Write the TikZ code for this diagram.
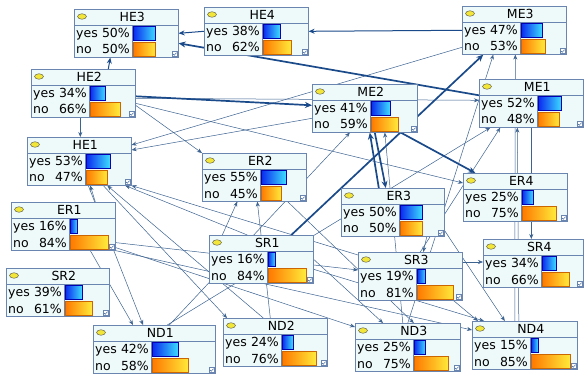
\documentclass[tikz,border=0pt]{standalone}
\usepackage{fontspec}
\setmainfont{DejaVu Sans}
\usepackage{tikz}
\usetikzlibrary{shapes.geometric}
\usetikzlibrary{arrows.meta}
\usepackage{xcolor}

\definecolor{bnfill}{HTML}{EEF9FA}
\definecolor{bnborder}{HTML}{6A86B0}
\definecolor{bnlink}{HTML}{3D6391}
\definecolor{bnthick}{HTML}{1A4A8A}
\definecolor{barblue}{HTML}{0A28F0}
\definecolor{barcyan}{HTML}{3CDCFF}
\definecolor{barorange}{HTML}{FF7800}
\definecolor{baryellow}{HTML}{FFEA3A}
\definecolor{dotyellow}{HTML}{F2E63A}

\pgfdeclarelayer{bg}
\pgfsetlayers{bg,main}

\tikzset{
  bnbox/.style={draw=bnborder, fill=bnfill, line width=0.6pt, minimum height=48pt, inner sep=0pt},
  bnrule/.style={draw=bnborder, line width=0.5pt},
  bndot/.style={ellipse, draw=black!70, fill=dotyellow, line width=0.4pt, minimum width=9pt, minimum height=5.5pt, inner sep=0pt},
  bntitle/.style={font=\fontsize{12.5}{14}\selectfont, inner sep=0pt, anchor=base},
  bntext/.style={font=\fontsize{12.5}{14}\selectfont, inner sep=1pt},
  yesbar/.style={draw=blue!70!black, line width=0.3pt, left color=barblue, right color=barcyan},
  nobar/.style={draw=orange!80!black, line width=0.3pt, left color=barorange, right color=baryellow},
  bncheck/.style={draw=bnborder, fill=white, line width=0.3pt, minimum size=5pt, inner sep=0pt},
  bntick/.style={draw=bnthick, line width=0.4pt},
  link/.style={draw=bnlink, line width=0.5pt, -{Stealth[length=5pt,width=4pt]}},
  medium/.style={draw=bnthick, line width=1pt, -{Stealth[length=6pt,width=5pt]}},
  strong/.style={draw=bnthick, line width=1.7pt, -{Stealth[length=7pt,width=6pt]}}
}

% name, x, y (top left, px), width, yes, no
\newcommand{\bnnode}[6]{%
  \node[bnbox, minimum width=#4pt, anchor=north west] (#1) at (#2,-#3) {};
  \draw[bnrule] ([yshift=-16pt]#1.north west) -- ([yshift=-16pt]#1.north east);
  \draw[bnrule] ([xshift=58pt,yshift=-16pt]#1.north west) -- ([xshift=58pt]#1.south west);
  \node[bndot] (#1-dot) at ([xshift=8pt,yshift=-7.5pt]#1.north west) {};
  \node[bntitle] (#1-title) at ([xshift=6pt,yshift=-12.7pt]#1.north) {#1};
  \node[bntext, anchor=base west] (#1-yes) at ([xshift=1pt,yshift=-28.7pt]#1.north west) {yes};
  \node[bntext, anchor=base east] (#1-yp) at ([xshift=57pt,yshift=-28.7pt]#1.north west) {#5\%};
  \node[bntext, anchor=base west] (#1-no) at ([xshift=1pt,yshift=-45pt]#1.north west) {no};
  \node[bntext, anchor=base east] (#1-np) at ([xshift=57pt,yshift=-45pt]#1.north west) {#6\%};
  \pgfmathsetmacro{\yeslen}{(#4-59)*#5/100}
  \pgfmathsetmacro{\nolen}{(#4-59)*#6/100}
  \draw[yesbar] ([xshift=59pt,yshift=-17.5pt]#1.north west) rectangle ++(\yeslen,-13.5);
  \draw[nobar] ([xshift=59pt,yshift=-33.5pt]#1.north west) rectangle ++(\nolen,-13.5);
  \node[bncheck] (#1-check) at ([xshift=-4pt,yshift=3.5pt]#1.south east) {};
  \draw[bntick] ([xshift=-5.6pt,yshift=3.6pt]#1.south east) -- ++(1.2,-1.3) -- ++(2.3,2.6);
}

\begin{document}
\begin{tikzpicture}[x=1pt, y=1pt]
\useasboundingbox (0,0) rectangle (584,-377);

\bnnode{HE3}{74}{9}{104}{50}{50}
\bnnode{HE4}{204}{7}{104}{38}{62}
\bnnode{ME3}{462}{6}{104}{47}{53}
\bnnode{HE2}{31}{69}{104}{34}{66}
\bnnode{ME2}{312}{84}{105}{41}{59}
\bnnode{ME1}{479}{79}{104}{52}{48}
\bnnode{HE1}{27}{137}{104}{53}{47}
\bnnode{ER2}{202}{153}{104}{55}{45}
\bnnode{ER1}{11}{202}{104}{16}{84}
\bnnode{ER3}{341}{188}{103}{50}{50}
\bnnode{ER4}{463}{173}{104}{25}{75}
\bnnode{SR1}{209}{235}{104}{16}{84}
\bnnode{SR2}{6}{268}{103}{39}{61}
\bnnode{SR3}{358}{252}{104}{19}{81}
\bnnode{SR4}{483}{239}{100}{34}{66}
\bnnode{ND1}{93}{325}{122}{42}{58}
\bnnode{ND2}{223}{318}{104}{24}{76}
\bnnode{ND3}{355}{323}{105}{25}{75}
\bnnode{ND4}{472}{321}{105}{15}{85}

\begin{pgfonlayer}{bg}
\fill[white] (0,0) rectangle (584,-377);
% thin links
\draw[link] ([xshift=-3pt]HE2.south) -- ([xshift=1pt]HE1.north);
\draw[link] ([yshift=-12pt]HE2.east) -- (ER2.north west);
\draw[link] ([yshift=-5pt]HE2.east) -- ([yshift=3pt]ME1.west);
\draw[link] ([yshift=-10pt]HE2.east) -- ([yshift=-10pt]ER4.north west);
\draw[link] ([yshift=-17pt]ME3.west) -- ([yshift=-8pt]HE1.north east);
\draw[link] ([yshift=-10pt]ME2.west) -- ([yshift=-13pt]HE1.north east);
\draw[link] ([xshift=32pt]ER1.north) -- ([xshift=11pt]HE1.south);
\draw[link] ([xshift=-12pt]ND2.north) -- ([xshift=28pt]HE1.south);
\draw[link] ([xshift=-14pt]SR1.north) -- ([xshift=46pt]HE1.south);
\draw[link] ([yshift=-3pt]SR3.north west) -- (HE1.south east);
\draw[link] ([yshift=8pt]ER1.south east) -- ([yshift=-18pt]SR3.north west);
\draw[link] ([yshift=3pt]ER1.south east) -- ([yshift=-4pt]ND3.north west);
\draw[link] (ER1.south east) -- ([yshift=-9pt]ND4.north west);
\draw[link] ([xshift=27pt]ER1.south) -- ([xshift=40pt]ND1.north west);
\draw[link] ([xshift=9pt]HE1.south) -- ([xshift=50pt]ND1.north west);
\draw[link] ([xshift=24pt]HE1.south) -- ([xshift=4pt]ND2.north west);
\draw[link] ([xshift=15pt]ND1.north) -- ([xshift=-15pt]ME2.south);
\draw[link] ([xshift=13pt]ND1.north) -- ([xshift=-41pt]ME1.south);
\draw[link] ([xshift=-39pt]SR1.north) -- ([xshift=-17pt]ER2.south);
\draw[link] ([xshift=-5pt]ND2.north) -- ([xshift=3pt]ER2.south);
\draw[link] ([xshift=-19pt]ER2.south east) -- ([xshift=6pt]ND3.north);
\draw[link] ([xshift=34pt]ER3.south) -- ([xshift=13pt]SR3.north);
\draw[link] ([yshift=-10pt]SR3.north east) -- ([yshift=-23pt]SR4.north west);
\draw[link] ([xshift=-9pt]SR3.south east) -- ([xshift=6pt]ND4.north west);
\draw[link] (SR1.east) -- ([xshift=28pt]ND3.north west);
\draw[link] ([yshift=-10pt]SR1.east) -- ([xshift=12pt]ND4.north west);
\draw[link] ([yshift=6pt]ER3.south east) -- ([xshift=-20pt]ND4.north);
\draw[link] ([xshift=-6pt]ND4.north) -- ([xshift=-14pt]ME1.south);
\draw[link] ([xshift=-10pt]ND4.north) -- ([xshift=1pt]ME3.south);
\draw[link] (ME1.south) -- ([xshift=-2pt]SR4.north);
\draw[link] (ND3.north) -- ([xshift=-21pt]ME3.south);
\draw[link] ([xshift=10pt]SR3.north) -- ([xshift=-31pt]ME1.south);
\draw[link] ([xshift=-5pt]ND3.north) -- ([xshift=20pt]ME2.south);
% strong links
\draw[strong] ([yshift=8pt]ME1.west) -- ([yshift=-10pt]HE3.east);
\draw[medium] (ME3.west) -- (HE4.east);
\draw[medium] (HE4.west) -- (HE3.east);
\draw[medium] ([xshift=25pt]HE2.north) -- ([xshift=-16pt]HE3.south);
\draw[strong] ([yshift=-3pt]HE2.east) -- ([yshift=3pt]ME2.west);
\draw[strong] ([xshift=30pt]SR1.north) -- ([xshift=-31pt]ME3.south);
\draw[strong] ([xshift=10pt]ME2.south) -- ([xshift=-7pt]ER3.north);
\draw[strong] ([xshift=-14pt]ER3.north) -- ([xshift=5pt]ME2.south);
\draw[strong] ([xshift=36pt]ME2.south) -- ([xshift=-40pt]ER4.north);
\end{pgfonlayer}
\end{tikzpicture}
\end{document}
